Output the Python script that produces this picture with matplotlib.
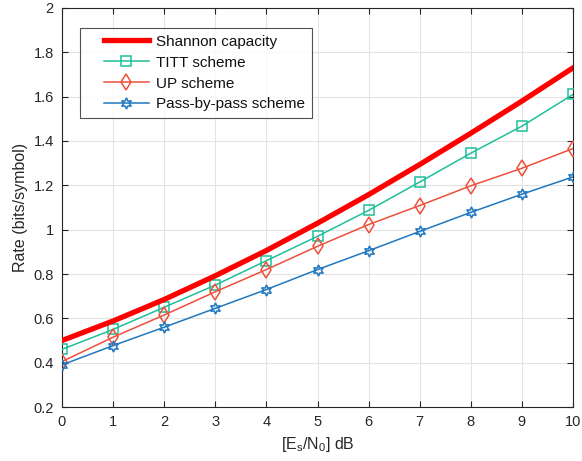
import numpy as np
import matplotlib.pyplot as plt
from matplotlib.lines import Line2D
from matplotlib.legend_handler import HandlerLine2D

plt.rcParams['font.family'] = ['Liberation Sans', 'DejaVu Sans']

snr = [0, 1, 2, 3, 4, 5, 6, 7, 8, 9, 10]
shannon = [0.500, 0.588, 0.685, 0.792, 0.906, 1.029, 1.158, 1.294, 1.435, 1.580, 1.730]
titt = [0.46, 0.55, 0.65, 0.75, 0.86, 0.97, 1.087, 1.215, 1.345, 1.467, 1.61]
up = [0.405, 0.515, 0.615, 0.72, 0.82, 0.925, 1.023, 1.109, 1.198, 1.277, 1.366]
pbp = [0.39, 0.477, 0.56, 0.645, 0.73, 0.82, 0.905, 0.992, 1.078, 1.16, 1.238]

fig = plt.figure(figsize=(5.82, 4.61), dpi=100)
ax = fig.add_axes([62/582, 54/461, 511/582, 399/461])

ax.plot(snr, shannon, color='#ff0000', lw=3.8, label='Shannon capacity', zorder=5)
ax.plot(snr, titt, color='#1fbf9a', lw=1.1, marker='s', ms=7, mfc='none', mew=1.1,
        label='TITT scheme', zorder=4)
ax.plot(snr, up, color='#ee4f3c', lw=1.1, marker='d', ms=8, mfc='none', mew=1.1,
        label='UP scheme', zorder=4)
ax.plot(snr, pbp, color='#1f78c1', lw=1.1, marker=(6, 1, 0), ms=8, mfc='none', mew=1.1,
        label='Pass-by-pass scheme', zorder=4)

ax.set_xlim(0, 10)
ax.set_ylim(0.2, 2)
ax.set_xticks(range(0, 11))
ax.set_yticks(np.arange(0.2, 2.01, 0.2))
ax.set_yticklabels(['0.2', '0.4', '0.6', '0.8', '1', '1.2', '1.4', '1.6', '1.8', '2'])
ax.grid(True, color='#e3e3e3', lw=0.8)
ax.set_axisbelow(True)
ax.tick_params(direction='in', top=True, right=True, labelsize=10.5, colors='#262626',
               length=4, pad=6)
for s in ax.spines.values():
    s.set_color('#262626')
    s.set_linewidth(0.8)

ax.set_xlabel(r'[E$_\mathregular{s}$/N$_\mathregular{0}$] dB', fontsize=11.5, color='#262626')
ax.set_ylabel('Rate (bits/symbol)', fontsize=11.5, color='#262626')

leg = ax.legend(loc='upper left', bbox_to_anchor=(0.035, 0.95), borderaxespad=0,
                fontsize=11, frameon=True, fancybox=False, edgecolor='#262626',
                borderpad=0.45, labelspacing=0.45, handlelength=4.1, handletextpad=0.45,
                handler_map={Line2D: HandlerLine2D(xpad=1.1)})
leg.get_frame().set_linewidth(0.8)
for t in leg.get_texts():
    t.set_color('#111111')

fig.savefig('out.png', dpi=100)
